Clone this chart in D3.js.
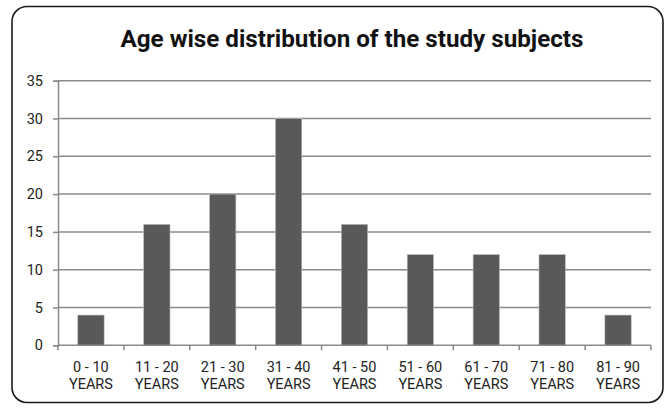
<!DOCTYPE html>
<html>
<head>
<meta charset="utf-8">
<script src="https://cdn.jsdelivr.net/npm/d3@7"></script>
<style>
  html, body { margin: 0; padding: 0; background: #fff; }
  svg { display: block; }
</style>
</head>
<body>
<svg id="chart" width="669" height="410"></svg>
<script>
// Age groups and the number of study subjects in each
const categories = ["0 - 10 YEARS", "11 - 20 YEARS", "21 - 30 YEARS", "31 - 40 YEARS",
  "41 - 50 YEARS", "51 - 60 YEARS", "61 - 70 YEARS", "71 - 80 YEARS", "81 - 90 YEARS"];
const counts = [4, 16, 20, 30, 16, 12, 12, 12, 4];
const yTicks = [0, 5, 10, 15, 20, 25, 30, 35];
const title = "Age wise distribution of the study subjects";

const svg = d3.select("#chart");
const font = "Roboto, 'Noto Sans', sans-serif";

// outer rounded frame
svg.append("rect")
  .attr("x", 12).attr("y", 6.5)
  .attr("width", 651).attr("height", 396)
  .attr("rx", 15).attr("ry", 15)
  .attr("fill", "#fff").attr("stroke", "#1a1a1a").attr("stroke-width", 1.6);

svg.append("text")
  .attr("x", 352).attr("y", 47)
  .attr("text-anchor", "middle")
  .attr("font-family", font).attr("font-weight", 700).attr("font-size", 24.2)
  .attr("fill", "#111")
  .text(title);

const plotLeft = 58, plotRight = 651, plotTop = 80.7, plotBottom = 345.3;

const x = d3.scaleBand().domain(categories).range([plotLeft, plotRight]).paddingInner(0.6).paddingOuter(0.3);
const y = d3.scaleLinear().domain([0, 35]).range([plotBottom, plotTop]);

// horizontal gridlines
svg.append("g").selectAll("line").data(yTicks.filter(t => t > 0)).join("line")
  .attr("x1", plotLeft).attr("x2", plotRight)
  .attr("y1", d => y(d)).attr("y2", d => y(d))
  .attr("stroke", "#8a8a8a").attr("stroke-width", 1.5);

// y axis
const yAxis = svg.append("g").attr("transform", `translate(${plotLeft},0)`)
  .call(d3.axisLeft(y).tickValues(yTicks).tickSize(5).tickPadding(10));
yAxis.select(".domain").attr("stroke", "#8a8a8a").attr("stroke-width", 1.5);
yAxis.selectAll(".tick line").attr("stroke", "#8a8a8a").attr("stroke-width", 1.5);
yAxis.selectAll("text").attr("font-family", font).attr("font-size", 14.5).attr("fill", "#222");

// bars
svg.append("g").selectAll("rect").data(counts).join("rect")
  .attr("x", (d, i) => x(categories[i]))
  .attr("y", d => y(d))
  .attr("width", x.bandwidth())
  .attr("height", d => plotBottom - y(d))
  .attr("fill", "#58595b")
  .attr("stroke", "#bdbdbd").attr("stroke-width", 0.6);

// x axis line with ticks between categories
const boundaries = d3.range(categories.length + 1)
  .map(i => plotLeft + i * (plotRight - plotLeft) / categories.length);
svg.append("line")
  .attr("x1", plotLeft).attr("x2", plotRight).attr("y1", plotBottom).attr("y2", plotBottom)
  .attr("stroke", "#8a8a8a").attr("stroke-width", 1.5);
svg.append("g").selectAll("line").data(boundaries).join("line")
  .attr("x1", d => d).attr("x2", d => d)
  .attr("y1", plotBottom).attr("y2", plotBottom + 5)
  .attr("stroke", "#8a8a8a").attr("stroke-width", 1.5);

// two-line category labels
const labels = svg.append("g").selectAll("text").data(categories).join("text")
  .attr("x", d => x(d) + x.bandwidth() / 2)
  .attr("y", 372)
  .attr("text-anchor", "middle")
  .attr("font-family", font).attr("font-size", 14.5).attr("fill", "#222");
labels.each(function(d) {
  const parts = d.split(" YEARS");
  const t = d3.select(this);
  t.append("tspan").attr("x", t.attr("x")).attr("dy", 0).text(parts[0]);
  t.append("tspan").attr("x", t.attr("x")).attr("dy", 16.5).text("YEARS");
});
</script>
</body>
</html>
